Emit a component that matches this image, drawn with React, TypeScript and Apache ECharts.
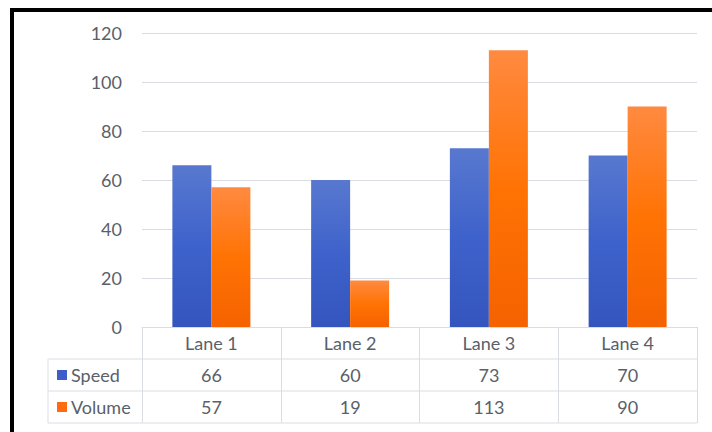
import React, { useEffect, useRef } from "react";
import * as echarts from "echarts";

const categories = ["Lane 1", "Lane 2", "Lane 3", "Lane 4"];
const seriesNames = ["Speed", "Volume"];
const speedValues = [66, 60, 73, 70];
const volumeValues = [57, 19, 113, 90];
const yTicks = { min: 0, max: 120, interval: 20 };

const FONT = "Lato";
const FS = 18;
const TEXT = "#5a5f69";
const LINE = "#d9dde3";

export default function App() {
  const ref = useRef<HTMLDivElement>(null);
  useEffect(() => {
    if (!ref.current) return;
    const chart = echarts.init(ref.current, null, { renderer: "svg" });
    const gl = 142, gr = 697, gt = 33, gb = 327;
    const rowH = 32;
    const tableLeft = 48;
    const cellW = (gr - gl) / categories.length;
    const values = [speedValues, volumeValues];
    const swatch = ["#3f5fc8", "#ff6a10"];

    const graphic: any[] = [
      { type: "rect", shape: { x: 10, y: 8, width: 702, height: 4 }, style: { fill: "#000" }, z: 100 },
      { type: "rect", shape: { x: 10, y: 8, width: 4, height: 424 }, style: { fill: "#000" }, z: 100 },
      { type: "line", shape: { x1: tableLeft, y1: gb + rowH, x2: gr, y2: gb + rowH }, style: { stroke: LINE, lineWidth: 1 } },
      { type: "line", shape: { x1: tableLeft, y1: gb + 2 * rowH, x2: gr, y2: gb + 2 * rowH }, style: { stroke: LINE, lineWidth: 1 } },
      { type: "line", shape: { x1: tableLeft, y1: gb + 3 * rowH, x2: gr, y2: gb + 3 * rowH }, style: { stroke: LINE, lineWidth: 1 } },
      { type: "line", shape: { x1: tableLeft, y1: gb + rowH, x2: tableLeft, y2: gb + 3 * rowH }, style: { stroke: LINE, lineWidth: 1 } },
    ];
    seriesNames.forEach((name, r) => {
      const cy = gb + rowH * (r + 1) + rowH / 2;
      graphic.push({ type: "rect", shape: { x: 57, y: cy - 5, width: 10, height: 10 }, style: { fill: swatch[r] } });
      graphic.push({
        type: "text", x: 71, y: cy,
        style: { text: name, fill: TEXT, font: `${FS}px ${FONT}`, textVerticalAlign: "middle", textAlign: "left" },
      });
      values[r].forEach((v, c) => {
        graphic.push({
          type: "text", x: gl + cellW * (c + 0.5), y: cy,
          style: { text: String(v), fill: TEXT, font: `${FS}px ${FONT}`, textVerticalAlign: "middle", textAlign: "center" },
        });
      });
    });

    const grad = (top: string, mid: string, bot: string) =>
      new echarts.graphic.LinearGradient(0, 0, 0, 1, [
        { offset: 0, color: top },
        { offset: 0.5, color: mid },
        { offset: 1, color: bot },
      ]);

    chart.setOption({
      animation: false,
      backgroundColor: "#fff",
      grid: { left: gl, right: 712 - gr, top: gt, bottom: 432 - gb, containLabel: false },
      xAxis: {
        type: "category",
        data: categories,
        axisLine: { show: true, lineStyle: { color: LINE } },
        axisTick: { show: true, length: rowH * 3, lineStyle: { color: LINE } },
        axisLabel: { color: TEXT, fontFamily: FONT, fontSize: FS, margin: 16, verticalAlign: "middle" },
      },
      yAxis: {
        type: "value",
        min: yTicks.min,
        max: yTicks.max,
        interval: yTicks.interval,
        axisLine: { show: false },
        axisTick: { show: false },
        axisLabel: { color: TEXT, fontFamily: FONT, fontSize: FS, margin: 20 },
        splitLine: { lineStyle: { color: LINE } },
      },
      series: [
        {
          name: seriesNames[0], type: "bar", data: speedValues, barWidth: 39, barGap: "0%",
          itemStyle: { color: grad("#5878cf", "#3e62cb", "#3455bd") },
        },
        {
          name: seriesNames[1], type: "bar", data: volumeValues, barWidth: 39,
          itemStyle: { color: grad("#ff8a40", "#ff7304", "#f56200") },
        },
      ],
      graphic,
    });
    return () => chart.dispose();
  }, []);
  return (
    <div
      ref={ref}
      style={{ position: "fixed", left: 0, top: 0, width: 712, height: 432 }}
    />
  );
}
